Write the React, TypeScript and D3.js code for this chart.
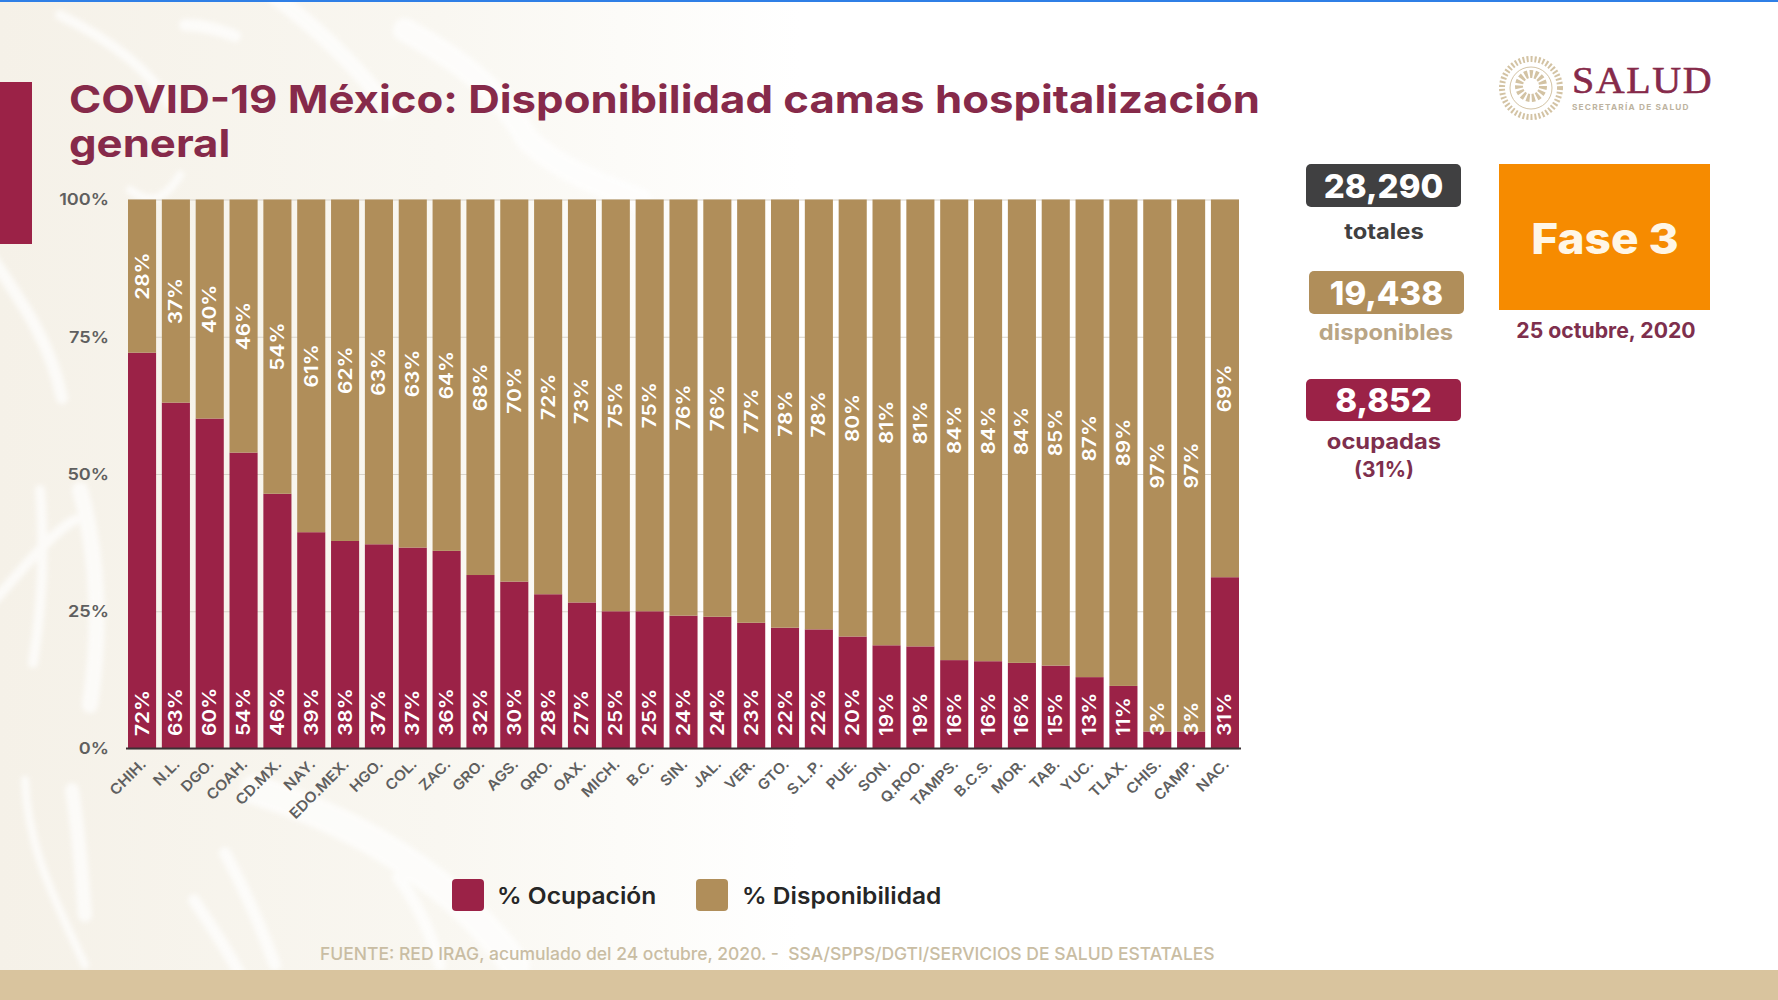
import * as d3 from 'd3';
import { useEffect, useRef } from 'react';

const estados = ['CHIH.', 'N.L.', 'DGO.', 'COAH.', 'CD.MX.', 'NAY.', 'EDO.MEX.', 'HGO.', 'COL.', 'ZAC.', 'GRO.', 'AGS.', 'QRO.', 'OAX.', 'MICH.', 'B.C.', 'SIN.', 'JAL.', 'VER.', 'GTO.', 'S.L.P.', 'PUE.', 'SON.', 'Q.ROO.', 'TAMPS.', 'B.C.S.', 'MOR.', 'TAB.', 'YUC.', 'TLAX.', 'CHIS.', 'CAMP.', 'NAC.'];
const ocupacion = [72.1, 63, 60.1, 53.9, 46.4, 39.4, 37.8, 37.2, 36.6, 36, 31.6, 30.4, 28.1, 26.6, 25, 25, 24.2, 24, 22.9, 22, 21.7, 20.4, 18.8, 18.6, 16.1, 15.9, 15.6, 15.1, 13, 11.4, 3.1, 3.1, 31.2];
const disponibilidad = [27.9, 37, 39.9, 46.1, 53.6, 60.6, 62.2, 62.8, 63.4, 64, 68.4, 69.6, 71.9, 73.4, 75, 75, 75.8, 76, 77.1, 78, 78.3, 79.6, 81.2, 81.4, 83.9, 84.1, 84.4, 84.9, 87, 88.6, 96.9, 96.9, 68.8];
const yTicks = [0, 25, 50, 75, 100];

const MARRON = '#9b2247';
const DORADO = '#b08e5a';
const FONT = 'Inter, "Open Sans", sans-serif';

// the original face is wider than anything installed, so stretch the glyphs a bit
const ensanchar = (sel: any, factor: number) => {
  sel.each(function (this: any) {
    const w = this.getComputedTextLength();
    d3.select(this).attr('textLength', w * factor).attr('lengthAdjust', 'spacingAndGlyphs');
  });
  return sel;
};

export default function App() {
  const svgRef = useRef<SVGSVGElement>(null);

  useEffect(() => {
    if (!svgRef.current) return;
    const svg = d3.select(svgRef.current);
    svg.selectAll('*').remove();

    const width = 1778;
    const height = 1000;
    const left = 128;
    const right = 1239;
    const top = 199.5;
    const bottom = 748.5;

    svg.attr('width', width).attr('height', height).style('font-family', FONT);
    svg.append('rect').attr('width', width).attr('height', height).attr('fill', '#ffffff');

    // watermark: cream wash fading right, white streaks on top
    const defs = svg.append('defs');
    const grad = defs.append('linearGradient').attr('id', 'crema')
      .attr('gradientUnits', 'userSpaceOnUse').attr('x1', 0).attr('x2', 800).attr('y1', 0).attr('y2', 0);
    grad.append('stop').attr('offset', 0).attr('stop-color', '#f5f1e8');
    grad.append('stop').attr('offset', 0.55).attr('stop-color', '#f9f7f1');
    grad.append('stop').attr('offset', 1).attr('stop-color', '#ffffff');
    defs.append('filter').attr('id', 'suave').append('feGaussianBlur').attr('stdDeviation', 2.5);
    svg.append('rect').attr('width', 800).attr('height', height).attr('fill', 'url(#crema)');

    const water = svg.append('g').attr('fill', 'none').attr('stroke-linecap', 'round').attr('stroke', '#ffffff')
      .attr('opacity', 0.7).attr('filter', 'url(#suave)');
    const bandas: [string, number][] = [
      ['M-10 255 C20 300 50 340 62 398', 12],
      ['M40 490 C46 560 40 620 33 663', 10],
      ['M80 490 C100 560 100 640 90 705', 16],
      ['M-5 600 C30 560 55 530 75 520', 10],
      ['M25 780 C28 850 55 900 85 965', 8],
      ['M72 790 C80 840 82 880 85 915', 14],
      ['M225 853 C245 890 262 930 275 965', 12],
      ['M194 900 C210 925 228 950 240 975', 12],
      ['M398 877 C415 900 430 930 440 965', 12],
      ['M255 790 C320 810 440 860 515 965', 30],
      ['M185 25 C205 25 220 30 235 36', 12],
      ['M273 -5 C320 30 360 70 390 110', 16],
      ['M405 30 C460 60 500 90 528 140 C560 170 600 185 640 200', 24],
      ['M60 15 C110 40 150 70 170 105', 10],
      ['M130 190 C150 205 165 200 180 175', 8],
    ];
    water.selectAll('path').data(bandas).enter().append('path')
      .attr('d', (d) => d[0]).attr('stroke-width', (d) => d[1]);

    svg.append('rect').attr('width', width).attr('height', 2).attr('fill', '#2f7fe6');
    svg.append('rect').attr('y', 970).attr('width', width).attr('height', 30).attr('fill', '#d9c49e');
    svg.append('rect').attr('y', 82).attr('width', 32).attr('height', 162).attr('fill', MARRON);

    const title = svg.append('g').attr('fill', '#862a4a').attr('font-weight', 700).attr('font-size', 38.5);
    ensanchar(title.append('text').attr('x', 69).attr('y', 113).text('COVID-19 México: Disponibilidad camas hospitalización'), 1.135);
    ensanchar(title.append('text').attr('x', 69).attr('y', 157).text('general'), 1.135);

    const x = d3.scaleBand<string>().domain(estados).range([left, right]).paddingInner(0.17).paddingOuter(0);
    const y = d3.scaleLinear().domain([0, 100]).range([bottom, top]);

    // gridlines and y labels
    const yAxis = svg.append('g')
      .attr('transform', `translate(${left},0)`)
      .call(d3.axisLeft(y).tickValues(yTicks).tickFormat((d) => `${d}%`).tickSize(-(right - left)).tickPadding(19));
    yAxis.select('.domain').remove();
    yAxis.selectAll('.tick line').attr('stroke', '#d9d4ca');
    ensanchar(yAxis.selectAll('.tick text')
      .attr('fill', '#5f5f5f').attr('font-size', 16.5).attr('font-weight', 600).attr('font-family', FONT), 1.1);

    const filas = estados.map((e, i) => ({ estado: e, ocupacion: ocupacion[i], disponibilidad: disponibilidad[i] }));
    const stack = d3.stack<any>().keys(['ocupacion', 'disponibilidad']);
    const series = stack(filas);
    const colores = [MARRON, DORADO];

    svg.selectAll('g.serie').data(series).enter().append('g')
      .attr('class', 'serie')
      .attr('fill', (_, i) => colores[i])
      .selectAll('rect')
      .data((d) => d)
      .enter()
      .append('rect')
      .attr('x', (d) => x(d.data.estado) ?? 0)
      .attr('width', x.bandwidth())
      .attr('y', (d) => y(d[1]))
      .attr('height', (d) => y(d[0]) - y(d[1]));

    // baseline
    svg.append('line').attr('x1', left - 2).attr('x2', right + 2).attr('y1', bottom).attr('y2', bottom)
      .attr('stroke', '#3a3034').attr('stroke-width', 2);

    // labels inside bars
    const etiqueta = (g: any, fn: (d: any) => number, anchor: string, campo: 'ocupacion' | 'disponibilidad') => {
      const t = g.selectAll('text.' + campo).data(filas).enter().append('text')
        .attr('class', campo)
        .attr('transform', (d: any) => `translate(${(x(d.estado) ?? 0) + x.bandwidth() / 2 + 6.5},${fn(d)}) rotate(-90)`)
        .attr('text-anchor', anchor)
        .attr('fill', '#ffffff')
        .attr('font-size', 18.5)
        .attr('font-weight', 600)
        .text((d: any) => `${Math.round(d[campo])}%`);
      ensanchar(t, 1.13);
    };
    const labels = svg.append('g');
    etiqueta(labels, () => 736, 'start', 'ocupacion');
    etiqueta(labels, (d) => (y(d.ocupacion) + y(100)) / 2, 'middle', 'disponibilidad');

    // state names
    ensanchar(svg.append('g').selectAll('text').data(estados).enter().append('text')
      .attr('transform', (d) => `translate(${(x(d) ?? 0) + x.bandwidth() / 2 + 5},${765}) rotate(-45)`)
      .attr('text-anchor', 'end')
      .attr('fill', '#5f5f5f')
      .attr('font-size', 14.5)
      .attr('font-weight', 600)
      .text((d) => d), 1.08);

    // legend
    const leyenda = [
      { nombre: '% Ocupación', color: MARRON, cx: 452, tx: 497 },
      { nombre: '% Disponibilidad', color: DORADO, cx: 696, tx: 742 },
    ];
    const ley = svg.append('g').selectAll('g').data(leyenda).enter().append('g');
    ley.append('rect').attr('x', (d) => d.cx).attr('y', 879).attr('width', 32).attr('height', 32).attr('rx', 4)
      .attr('fill', (d) => d.color);
    ensanchar(ley.append('text').attr('x', (d) => d.tx).attr('y', 904).attr('fill', '#262626')
      .attr('font-size', 22.5).attr('font-weight', 600).text((d) => d.nombre), 1.09);

    svg.append('text').attr('x', 320).attr('y', 960).attr('fill', '#c9bda3').attr('font-size', 17.5).attr('font-weight', 500)
      .style('white-space', 'pre')
      .text('FUENTE: RED IRAG, acumulado del 24 octubre, 2020. -  SSA/SPPS/DGTI/SERVICIOS DE SALUD ESTATALES');

    // stat boxes
    const cajas = [
      { valor: '28,290', fill: '#404041', bx: 1306, by: 164, w: 155, h: 43 },
      { valor: '19,438', fill: DORADO, bx: 1309, by: 271, w: 155, h: 43 },
      { valor: '8,852', fill: MARRON, bx: 1306, by: 379, w: 155, h: 42 },
    ];
    const caja = svg.append('g').selectAll('g').data(cajas).enter().append('g');
    caja.append('rect').attr('x', (d) => d.bx).attr('y', (d) => d.by).attr('width', (d) => d.w).attr('height', (d) => d.h)
      .attr('rx', 5).attr('fill', (d) => d.fill);
    caja.append('text').attr('x', (d) => d.bx + d.w / 2).attr('y', (d) => d.by + d.h / 2 + 12)
      .attr('text-anchor', 'middle').attr('fill', '#ffffff').attr('font-size', 33).attr('font-weight', 800).text((d) => d.valor);

    const notas = [
      { t: 'totales', cx: 1384, ty: 239, c: '#404041', f: 1.13 },
      { t: 'disponibles', cx: 1386, ty: 340, c: '#b9a585', f: 1.13 },
      { t: 'ocupadas', cx: 1384, ty: 449, c: '#7e2f4d', f: 1.13 },
      { t: '(31%)', cx: 1384, ty: 477, c: '#7e2f4d', f: 1 },
      { t: '25 octubre, 2020', cx: 1606, ty: 338, c: '#7e2f4d', f: 1.01 },
    ];
    svg.append('g').selectAll('text').data(notas).enter().append('text')
      .attr('x', (d) => d.cx).attr('y', (d) => d.ty).attr('text-anchor', 'middle')
      .attr('fill', (d) => d.c).attr('font-size', 21).attr('font-weight', 700).text((d) => d.t)
      .each(function (d) { ensanchar(d3.select(this), d.f); });

    svg.append('rect').attr('x', 1499).attr('y', 164).attr('width', 211).attr('height', 146).attr('fill', '#f68b00');
    ensanchar(svg.append('text').attr('x', 1605).attr('y', 254).attr('text-anchor', 'middle').attr('fill', '#fff6e6')
      .attr('font-size', 43).attr('font-weight', 800).text('Fase 3'), 1.07);

    // logo
    const logo = svg.append('g').attr('fill', 'none').attr('stroke', '#d3c3a4');
    logo.append('circle').attr('cx', 1531).attr('cy', 88).attr('r', 29).attr('stroke-width', 6).attr('stroke-dasharray', '2 2');
    logo.append('circle').attr('cx', 1531).attr('cy', 88).attr('r', 21).attr('stroke-width', 1);
    logo.append('circle').attr('cx', 1531).attr('cy', 86).attr('r', 12).attr('stroke-width', 8).attr('stroke-dasharray', '3 2');
    ensanchar(svg.append('text').attr('x', 1572).attr('y', 93).attr('fill', '#862a4a').attr('font-family', '"Liberation Serif", serif')
      .attr('font-size', 37).attr('letter-spacing', 1.5).attr('stroke', '#862a4a').attr('stroke-width', 0.6).text('SALUD'), 1.08);
    ensanchar(svg.append('text').attr('x', 1572).attr('y', 110).attr('fill', '#bdb3a0').attr('font-size', 7.5).attr('font-weight', 700)
      .attr('letter-spacing', 1.1).text('SECRETARÍA DE SALUD'), 1.1);
  }, []);

  return <svg ref={svgRef} style={{ position: 'absolute', left: 0, top: 0, display: 'block' }} />;
}
